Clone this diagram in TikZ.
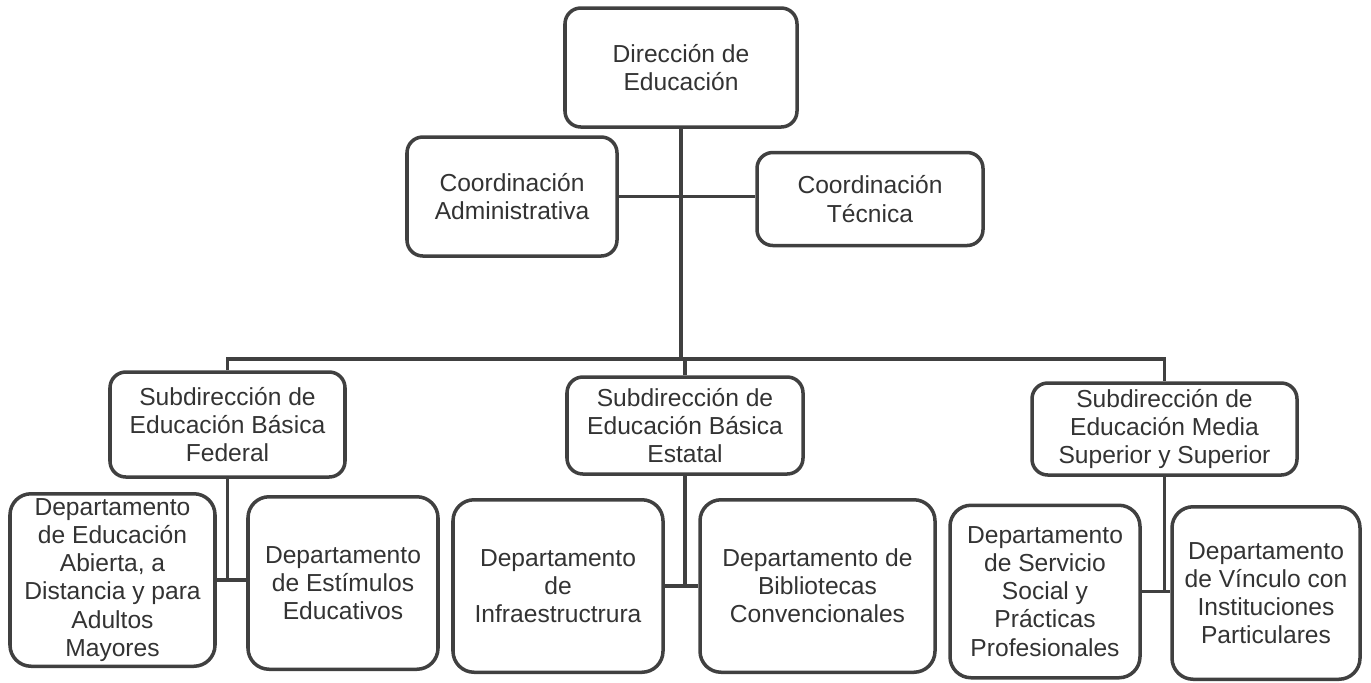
\documentclass[tikz,border=0pt]{standalone}
\usepackage{fontspec}
\setmainfont{Liberation Sans}
\usetikzlibrary{positioning}

\begin{document}
\begin{tikzpicture}[
  font=\fontsize{14}{16}\selectfont,
  text=black!80,
  caja/.style={
    rectangle,
    draw=black!75,
    line width=2pt,
    rounded corners=9pt,
    align=center,
    inner sep=2pt
  },
  depto/.style={
    caja,
    rounded corners=12pt,
    minimum height=3.45cm
  },
  conn/.style={
    draw=black!75,
    line width=2pt
  }
]

\useasboundingbox (0,0) rectangle (27.42,-13.64);

% =========================================================
% DIRECCION Y COORDINACIONES
% =========================================================

\node[caja, minimum width=4.64cm, minimum height=2.38cm] (dir) at (13.62,-1.35)
  {Dirección de\\Educación};

\node[caja, minimum width=4.2cm, minimum height=2.38cm] (cadm) at (10.24,-3.93)
  {Coordinación\\Administrativa};

\node[caja, minimum width=4.52cm, minimum height=1.86cm] (ctec) at (17.40,-3.98)
  {Coordinación\\Técnica};

% =========================================================
% SUBDIRECCIONES
% =========================================================

\node[caja, minimum width=4.7cm, minimum height=2.1cm] (sfed) at (4.55,-8.49)
  {Subdirección de\\Educación Básica\\Federal};

\node[caja, minimum width=4.72cm, minimum height=1.94cm] (sest) at (13.70,-8.51)
  {Subdirección de\\Educación Básica\\Estatal};

\node[caja, minimum width=5.3cm, minimum height=1.84cm] (smed) at (23.29,-8.58)
  {Subdirección de\\Educación Media\\Superior y Superior};

% =========================================================
% DEPARTAMENTOS
% =========================================================

\node[depto, minimum width=4.1cm] (dabi) at (2.25,-11.60)
  {Departamento\\de Educación\\Abierta, a\\Distancia y para\\Adultos\\Mayores};

\node[depto, minimum width=3.8cm] (dest) at (6.86,-11.66)
  {Departamento\\de Estímulos\\Educativos};

\node[depto, minimum width=4.2cm] (dinf) at (11.16,-11.72)
  {Departamento\\de\\Infraestructrura};

\node[depto, minimum width=4.7cm] (dbib) at (16.35,-11.72)
  {Departamento de\\Bibliotecas\\Convencionales};

\node[depto, minimum width=3.8cm] (dser) at (20.90,-11.83)
  {Departamento\\de Servicio\\Social y\\Prácticas\\Profesionales};

\node[depto, minimum width=3.76cm] (dvin) at (25.32,-11.86)
  {Departamento\\de Vínculo con\\Instituciones\\Particulares};

% =========================================================
% CONECTORES
% =========================================================

\coordinate (bus) at (13.62,-7.18);

\draw[conn] (dir.south) -- (bus);
\draw[conn] (cadm.east) -- (cadm.east -| ctec.west);
\draw[conn] (sfed.north) |- (bus) -| (smed.north);
\draw[conn] (sest.north) -- (sest.north |- bus);

% --- Subdirecciones a departamentos ---

\draw[conn] (sfed.south) -- (sfed.south |- dabi.east);
\draw[conn] (dabi.east) -- (dabi.east -| dest.west);

\draw[conn] (sest.south) -- (sest.south |- dinf.east);
\draw[conn] (dinf.east) -- (dinf.east -| dbib.west);

\draw[conn] (smed.south) -- (smed.south |- dser.east);
\draw[conn] (dser.east) -- (dser.east -| dvin.west);

\end{tikzpicture}
\end{document}
